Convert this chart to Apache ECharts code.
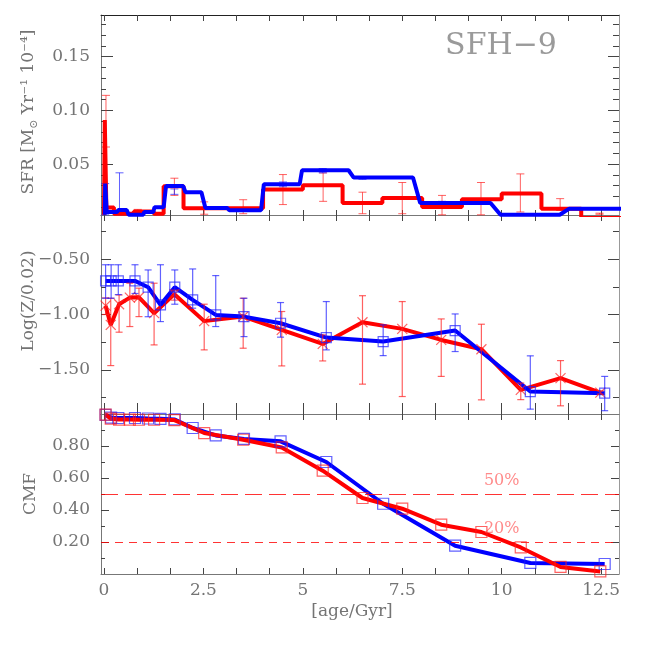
<!DOCTYPE html>
<html><head><meta charset="utf-8">
<script src="https://cdn.jsdelivr.net/npm/echarts@6/dist/echarts.min.js"></script>
<style>html,body{margin:0;padding:0;background:#fff}#c{width:654px;height:654px}</style>
</head><body><div id="c"></div>
<script>
// ---------- DATA ----------
// Top panel: star formation rate (step histories)
const redSfrEdges  = [0.0, 0.02, 0.06, 0.25, 0.75, 1.25, 1.5, 2.0, 4.0, 5.0, 6.0, 7.0, 8.0, 9.0, 10.0, 11.0, 12.0, 13.0];
const redSfrValues = [0.003, 0.091, 0.0097, 0.004, 0.006, 0.004, 0.0295, 0.009, 0.0264, 0.0304, 0.014, 0.0186, 0.0102, 0.0174, 0.0227, 0.0087, 0.0];
const blueSfrAge = [0.02, 0.03, 0.05, 0.07, 0.33, 0.36, 0.57, 0.62, 0.99, 1.01, 1.24, 1.27, 1.5, 1.56, 1.99, 2.05, 2.45, 2.55, 3.1, 3.15, 3.95, 4.02, 4.92, 4.98, 6.15, 6.28, 7.77, 7.95, 9.72, 9.97, 11.46, 11.7, 13.0];
const blueSfrVal = [0.003, 0.032, 0.032, 0.0056, 0.0056, 0.0075, 0.0075, 0.003, 0.003, 0.0056, 0.0056, 0.010, 0.010, 0.0298, 0.0298, 0.024, 0.024, 0.0093, 0.0093, 0.0072, 0.0072, 0.0314, 0.0314, 0.0444, 0.0444, 0.0376, 0.0376, 0.014, 0.014, 0.003, 0.003, 0.0087, 0.0087];
const redSfrErrAge = [0.05, 0.85, 1.77, 2.52, 3.5, 4.5, 5.51, 6.5, 7.5, 8.5, 9.48, 10.47, 11.47, 12.46];
const redSfrErrLo  = [0.066, 0.004, 0.021, 0.0035, 0.004, 0.0125, 0.0155, 0.004, 0.004, 0.003, 0.003, 0.0056, 0.007, 0.0035];
const redSfrErrHi  = [0.114, 0.008, 0.037, 0.015, 0.017, 0.0404, 0.0419, 0.024, 0.033, 0.021, 0.033, 0.041, 0.018, 0.0045];
const blueSfrErrAge = [0.03, 0.39, 1.77, 4.5, 5.5, 6.5, 8.5, 10.5];
const blueSfrErrLo  = [0.003, 0.003, 0.022, 0.029, 0.042, 0.036, 0.013, 0.0028];
const blueSfrErrHi  = [0.032, 0.042, 0.027, 0.0335, 0.046, 0.038, 0.0155, 0.0035];

// Middle panel: metallicity
const redAge = [0.04, 0.17, 0.38, 0.65, 0.88, 1.26, 1.77, 2.52, 3.5, 4.47, 5.5, 6.5, 7.5, 8.48, 9.49, 10.48, 11.48, 12.48];
const redZ   = [-0.92, -1.094, -0.907, -0.847, -0.844, -0.988, -0.816, -1.06, -1.019, -1.139, -1.266, -1.07, -1.13, -1.23, -1.314, -1.682, -1.576, -1.706];
const redZLo = [-1.0, -1.462, -1.16, -1.109, -1.019, -1.275, -0.87, -1.32, -1.305, -1.465, -1.42, -1.63, -1.742, -1.56, -1.772, -1.77, -1.826, -1.72];
const redZHi = [-0.85, -0.853, -0.823, -0.717, -0.762, -0.717, -0.78, -0.907, -0.853, -0.973, -1.184, -0.83, -0.883, -1.04, -1.088, -1.62, -1.417, -1.69];
const blueAge = [0.04, 0.18, 0.36, 0.78, 1.11, 1.42, 1.78, 2.23, 2.81, 3.52, 4.44, 5.59, 7.02, 8.83, 10.72, 12.59];
const blueZ   = [-0.696, -0.696, -0.696, -0.696, -0.753, -0.913, -0.753, -0.868, -1.004, -1.019, -1.079, -1.209, -1.245, -1.145, -1.697, -1.712];
const blueZLo = [-0.853, -0.853, -0.82, -0.81, -1.02, -1.064, -0.907, -0.943, -1.109, -1.2, -1.205, -1.32, -1.372, -1.335, -1.856, -1.87];
const blueZHi = [-0.55, -0.55, -0.55, -0.55, -0.597, -0.55, -0.597, -0.588, -0.648, -0.853, -0.892, -0.883, -1.094, -0.995, -1.374, -1.56];

// Bottom panel: cumulative mass fraction
const redCmf  = [0.996, 0.971, 0.965, 0.965, 0.964, 0.964, 0.962, 0.881, 0.839, 0.791, 0.646, 0.475, 0.408, 0.308, 0.2625, 0.166, 0.044, 0.016];
const blueCmf = [0.995, 0.977, 0.975, 0.975, 0.972, 0.970, 0.966, 0.9125, 0.866, 0.844, 0.829, 0.70, 0.439, 0.177, 0.069, 0.0625];
const cmfLevels = [0.5, 0.2];
const cmfLevelLabels = ['50%', '20%'];

// Ticks and tick labels
const xTickValues  = [0, 0.8333333, 1.6666667, 2.5, 3.3333333, 4.1666667, 5, 5.8333333, 6.6666667, 7.5, 8.3333333, 9.1666667, 10, 10.8333333, 11.6666667, 12.5];
const xLabelValues = [0, 2.5, 5, 7.5, 10, 12.5];
const sfrMajor = [0.05, 0.10, 0.15];
const sfrMinor = [0.01, 0.02, 0.03, 0.04, 0.06, 0.07, 0.08, 0.09, 0.11, 0.12, 0.13, 0.14, 0.16, 0.17, 0.18];
const zMajor = [-0.5, -1.0, -1.5];
const zMinor = [-0.25, -0.75, -1.25, -1.75];
const cmfMajor = [0.2, 0.4, 0.6, 0.8];
const cmfMinor = [0.1, 0.3, 0.5, 0.7, 0.9];

// ---------- STYLE ----------
const FONT = 'DejaVu Serif';
const LBL = '#747474';
const FRAME = '#777';
const TICK = '#444';
const RED = '#ff0000', BLUE = '#0000ff';
const RED_T = 'rgba(255,30,30,0.7)', BLUE_T = 'rgba(30,30,255,0.7)';
const X_MIN = -0.075, X_MAX = 12.95;
const yRange = [[0.0028, 0.1887], [-1.9, -0.1], [0, 1]];

const grids = [
  {left: 101, top: 15, width: 518, height: 200},
  {left: 101, top: 215, width: 518, height: 199},
  {left: 101, top: 414, width: 518, height: 160}
];

function xAx(g, pos, tickLen, showLabel, lineColor) {
  return {
    type: 'value', gridIndex: g, position: pos, min: X_MIN, max: X_MAX,
    axisLine: {show: true, onZero: false, lineStyle: {color: lineColor || FRAME, width: 1}},
    axisTick: {show: true, inside: true, length: tickLen, customValues: xTickValues, lineStyle: {color: TICK}},
    axisLabel: {show: showLabel, customValues: xLabelValues, formatter: v => String(v), margin: 8,
      color: LBL, fontFamily: FONT, fontSize: 17},
    splitLine: {show: false}
  };
}
function yAx(g, pos, ticks, tickLen, opts) {
  opts = opts || {};
  return {
    type: 'value', gridIndex: g, position: pos, min: yRange[g][0], max: yRange[g][1],
    axisLine: {show: !!opts.line, onZero: false, lineStyle: {color: opts.lineColor || FRAME, width: 1}},
    axisTick: {show: true, inside: true, length: tickLen, customValues: ticks, lineStyle: {color: TICK}},
    axisLabel: {show: !!opts.fmt, customValues: ticks, formatter: opts.fmt, margin: 11,
      color: LBL, fontFamily: FONT, fontSize: 17},
    splitLine: {show: false}
  };
}
const fmt2 = v => v.toFixed(2).replace('-', '\u2212');

const xAxis = [
  xAx(0, 'bottom', 5, false), xAx(0, 'top', 6, false, '#222'),
  xAx(1, 'bottom', 11, false), xAx(1, 'top', 6, false),
  xAx(2, 'bottom', 6, true), xAx(2, 'top', 6, false)
];
const yAxis = [
  yAx(0, 'left', sfrMajor, 12, {line: true, fmt: fmt2}), yAx(0, 'left', sfrMinor, 5),
  yAx(0, 'right', sfrMajor, 11, {line: true, lineColor: '#999'}), yAx(0, 'right', sfrMinor, 6),
  yAx(1, 'left', zMajor, 10, {line: true, fmt: fmt2}), yAx(1, 'left', zMinor, 5),
  yAx(1, 'right', zMajor, 11, {line: true, lineColor: '#999'}), yAx(1, 'right', zMinor, 6),
  yAx(2, 'left', cmfMajor, 8, {line: true, fmt: fmt2}), yAx(2, 'left', cmfMinor, 4),
  yAx(2, 'right', cmfMajor, 8, {line: true, lineColor: '#999'}), yAx(2, 'right', cmfMinor, 4)
];

function errMark(marker, color, size, cap, lw) {
  return function (params, api) {
    const x = api.value(0), y = api.value(1), lo = api.value(2), hi = api.value(3);
    const st = {stroke: color, lineWidth: lw || 1, fill: 'none'};
    const ch = [];
    if (lo !== hi) {
      const a = api.coord([x, lo]), b = api.coord([x, hi]);
      ch.push({type: 'line', shape: {x1: a[0], y1: a[1], x2: b[0], y2: b[1]}, style: st});
      ch.push({type: 'line', shape: {x1: a[0] - cap, y1: a[1], x2: a[0] + cap, y2: a[1]}, style: st});
      ch.push({type: 'line', shape: {x1: b[0] - cap, y1: b[1], x2: b[0] + cap, y2: b[1]}, style: st});
    }
    const c = api.coord([x, y]), h = size / 2;
    if (marker === 'cross') {
      ch.push({type: 'line', shape: {x1: c[0] - h, y1: c[1] - h, x2: c[0] + h, y2: c[1] + h}, style: st});
      ch.push({type: 'line', shape: {x1: c[0] - h, y1: c[1] + h, x2: c[0] + h, y2: c[1] - h}, style: st});
    } else if (marker === 'square') {
      ch.push({type: 'rect', shape: {x: c[0] - h, y: c[1] - h, width: size, height: size}, style: st});
    }
    return {type: 'group', children: ch};
  };
}
function zip4(a, b, c, d) { return a.map((v, i) => [v, b[i], c[i], d[i]]); }

const redSfrLine = redSfrValues.map((v, i) => [redSfrEdges[i], v]);
redSfrLine.push([redSfrEdges[redSfrEdges.length - 1], redSfrValues[redSfrValues.length - 1]]);

const series = [
  // top panel
  {type: 'custom', xAxisIndex: 0, yAxisIndex: 0, z: 2, silent: true,
   renderItem: errMark('none', RED_T, 0, 4),
   data: zip4(redSfrErrAge, redSfrErrHi, redSfrErrLo, redSfrErrHi)},
  {type: 'custom', xAxisIndex: 0, yAxisIndex: 0, z: 2, silent: true,
   renderItem: errMark('none', BLUE_T, 0, 4),
   data: zip4(blueSfrErrAge, blueSfrErrHi, blueSfrErrLo, blueSfrErrHi)},
  {type: 'line', xAxisIndex: 0, yAxisIndex: 0, z: 3, step: 'end', showSymbol: false, silent: true,
   lineStyle: {color: RED, width: 4}, data: redSfrLine},
  {type: 'line', xAxisIndex: 0, yAxisIndex: 0, z: 4, showSymbol: false, silent: true,
   lineStyle: {color: BLUE, width: 4}, data: blueSfrAge.map((a, i) => [a, blueSfrVal[i]])},
  // middle panel
  {type: 'line', xAxisIndex: 2, yAxisIndex: 4, z: 3, showSymbol: false, silent: true,
   lineStyle: {color: RED, width: 4}, data: redAge.map((a, i) => [a, redZ[i]])},
  {type: 'line', xAxisIndex: 2, yAxisIndex: 4, z: 4, showSymbol: false, silent: true,
   lineStyle: {color: BLUE, width: 4}, data: blueAge.map((a, i) => [a, blueZ[i]])},
  {type: 'custom', xAxisIndex: 2, yAxisIndex: 4, z: 5, silent: true,
   renderItem: errMark('cross', RED_T, 10, 3.5, 1.2),
   data: zip4(redAge, redZ, redZLo, redZHi)},
  {type: 'custom', xAxisIndex: 2, yAxisIndex: 4, z: 5, silent: true,
   renderItem: errMark('square', BLUE_T, 10, 3.5, 1.2),
   data: zip4(blueAge, blueZ, blueZLo, blueZHi)},
  // bottom panel
  {type: 'line', xAxisIndex: 4, yAxisIndex: 8, z: 3, showSymbol: false, silent: true,
   lineStyle: {color: BLUE, width: 4}, data: blueAge.map((a, i) => [a, blueCmf[i]])},
  {type: 'line', xAxisIndex: 4, yAxisIndex: 8, z: 4, showSymbol: false, silent: true,
   lineStyle: {color: RED, width: 4}, data: redAge.map((a, i) => [a, redCmf[i]]),
   markLine: {silent: true, symbol: 'none', animation: false, label: {show: false},
     data: cmfLevels.map((lv, i) => ({yAxis: lv,
       lineStyle: {color: 'rgba(255,0,0,0.8)', width: 1, type: i === 0 ? [17, 7] : [8, 6]}}))}},
  {type: 'custom', xAxisIndex: 4, yAxisIndex: 8, z: 5, silent: true,
   renderItem: errMark('square', BLUE_T, 11, 0, 1.2),
   data: zip4(blueAge, blueCmf, blueCmf, blueCmf)},
  {type: 'custom', xAxisIndex: 4, yAxisIndex: 8, z: 5, silent: true,
   renderItem: errMark('square', RED_T, 11, 0, 1.2),
   data: zip4(redAge, redCmf, redCmf, redCmf)},
  {type: 'scatter', xAxisIndex: 4, yAxisIndex: 8, z: 6, silent: true, symbolSize: 0,
   label: {show: true, position: 'top', distance: 5, formatter: p => cmfLevelLabels[p.dataIndex],
     color: 'rgba(255,60,60,0.75)', fontFamily: FONT, fontSize: 16},
   data: cmfLevels.map(lv => [10.0, lv])}
];

const nameStyle = {fill: LBL, fontFamily: FONT, fontSize: 17, align: 'center', verticalAlign: 'middle'};
const graphic = [
  {type: 'text', x: 501, y: 46, style: {text: 'SFH\u22129', fill: '#9a9a9a', fontFamily: FONT, fontSize: 30,
    align: 'center', verticalAlign: 'middle'}},
  {type: 'text', x: 352, y: 612, style: Object.assign({text: '[age/Gyr]'}, nameStyle)},
  {type: 'text', x: 29, y: 112, rotation: Math.PI / 2, style: Object.assign({
    text: '{n|SFR [M}{s|\u2299}{n| Yr\u207B\u00B9 10\u207B\u2074]}',
    rich: {n: {fill: LBL, fontFamily: FONT, fontSize: 17, verticalAlign: 'middle', lineHeight: 22},
           s: {fill: LBL, fontFamily: FONT, fontSize: 11, verticalAlign: 'bottom', lineHeight: 12}}
  }, nameStyle)},
  {type: 'text', x: 29, y: 301, rotation: Math.PI / 2, style: Object.assign({text: 'Log(Z/0.02)'}, nameStyle)},
  {type: 'text', x: 31, y: 494, rotation: Math.PI / 2, style: Object.assign({text: 'CMF'}, nameStyle)}
];

const chart = echarts.init(document.getElementById('c'), null, {renderer: 'canvas'});
chart.setOption({animation: false, backgroundColor: '#fff', grid: grids, xAxis, yAxis, series, graphic});
</script></body></html>
